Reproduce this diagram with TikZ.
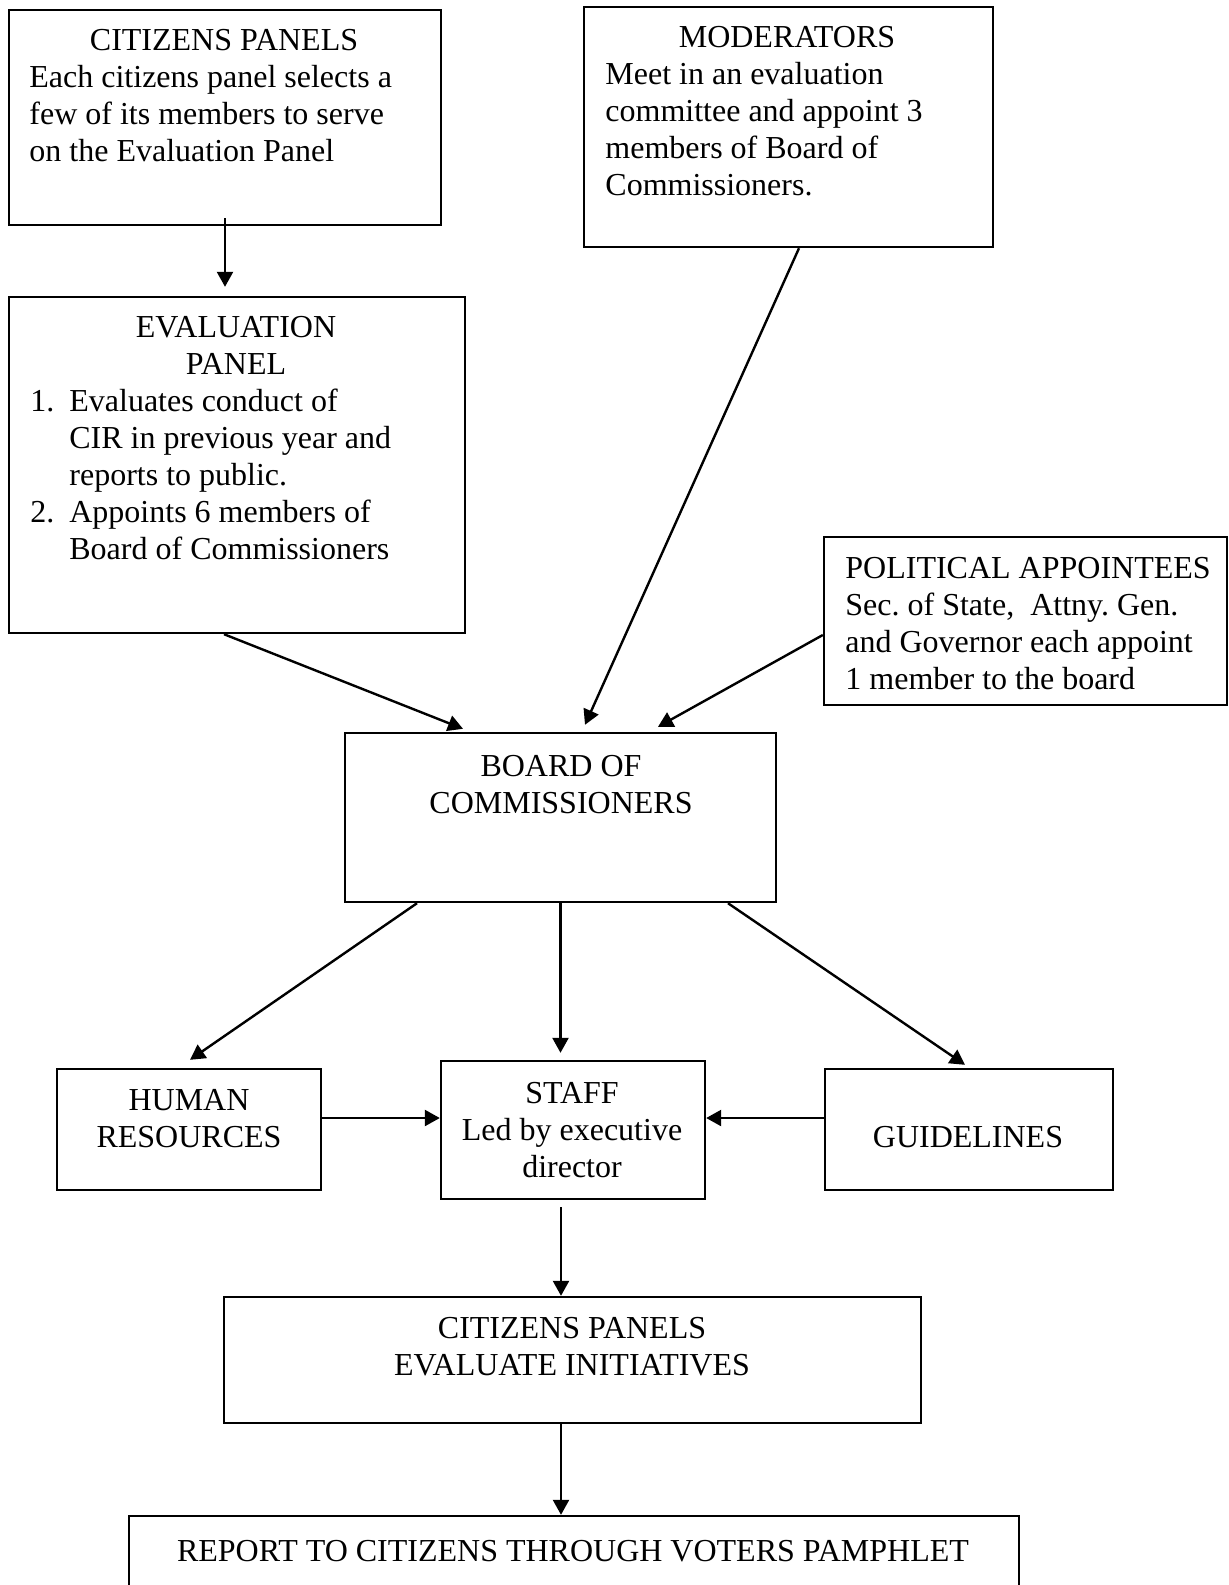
\documentclass[tikz,border=0pt]{standalone}
\usepackage{fontspec}
\setmainfont{Liberation Serif}
\usetikzlibrary{arrows.meta}
\frenchspacing
\begin{document}
\begin{tikzpicture}[x=0.5pt,y=-0.5pt,
  box/.style={draw, line width=1.2pt, rectangle, inner sep=0pt},
  lbl/.style={inner sep=0pt, font=\fontsize{16}{18.5}\selectfont},
  arr/.style={line width=1.2pt, -{Triangle[length=7.5pt,width=8pt]}}]
\useasboundingbox (0,0) rectangle (1228,1585);
\clip (0,0) rectangle (1228,1585);
% boxes
\node[box, minimum width=216pt, minimum height=107.5pt] (cp) at (225,117.5) {};
\node[box, minimum width=228pt, minimum height=168pt] (eval) at (237,465) {};
\node[box, minimum width=204.5pt, minimum height=120pt] (mod) at (788.5,127) {};
\node[box, minimum width=201.5pt, minimum height=84pt] (pol) at (1025.5,621) {};
\node[box, minimum width=215.5pt, minimum height=84.5pt] (board) at (560.5,817.5) {};
\node[box, minimum width=132pt, minimum height=60.5pt] (hr) at (189,1129.5) {};
\node[box, minimum width=132pt, minimum height=69pt] (staff) at (573,1130) {};
\node[box, minimum width=144pt, minimum height=60.5pt] (guide) at (969,1129.5) {};
\node[box, minimum width=348.5pt, minimum height=63pt] (cpe) at (572.5,1360) {};
\node[box, minimum width=445pt, minimum height=60pt] (report) at (574,1576) {};
% texts
\node[lbl, anchor=base] (cpT) at (224,50) {CITIZENS PANELS};
\node[lbl, anchor=base west] (cpB) at (29,87) {\begin{tabular}[t]{@{}l@{}}Each citizens panel selects a\\ few of its members to serve\\ on the Evaluation Panel\end{tabular}};
\node[lbl, anchor=base] (evT) at (236,337) {\begin{tabular}[t]{@{}c@{}}EVALUATION\\ PANEL\end{tabular}};
\node[lbl, anchor=base west] (evB) at (30,411) {\begin{tabular}[t]{@{}l@{}l@{}}\makebox[19.5pt][l]{1.} & Evaluates conduct of\\ & CIR in previous year and\\ & reports to public.\\ \makebox[19.5pt][l]{2.} & Appoints 6 members of\\ & Board of Commissioners\end{tabular}};
\node[lbl, anchor=base] (modT) at (787,47) {MODERATORS};
\node[lbl, anchor=base west] (modB) at (605,84) {\begin{tabular}[t]{@{}l@{}}Meet in an evaluation\\ committee and appoint 3\\ members of Board of\\ Commissioners.\end{tabular}};
\node[lbl, anchor=base west] (polT) at (845,578) {\begin{tabular}[t]{@{}l@{}}POLITICAL APPOINTEES\\ Sec. of State,\ \ Attny. Gen.\\ and Governor each appoint\\ 1 member to the board\end{tabular}};
\node[lbl, anchor=base] (boardT) at (561,776) {\begin{tabular}[t]{@{}c@{}}BOARD OF\\ COMMISSIONERS\end{tabular}};
\node[lbl, anchor=base] (hrT) at (189,1110) {\begin{tabular}[t]{@{}c@{}}HUMAN\\ RESOURCES\end{tabular}};
\node[lbl, anchor=base] (staffT) at (572,1103) {\begin{tabular}[t]{@{}c@{}}STAFF\\ Led by executive\\ director\end{tabular}};
\node[lbl, anchor=base] (guideT) at (968,1147) {GUIDELINES};
\node[lbl, anchor=base] (cpeT) at (572,1338) {\begin{tabular}[t]{@{}c@{}}CITIZENS PANELS\\ EVALUATE INITIATIVES\end{tabular}};
\node[lbl, anchor=base] (reportT) at (573,1561) {REPORT TO CITIZENS THROUGH VOTERS PAMPHLET};
% connectors
\draw[arr] ([yshift=4pt]cp.south) -- ([yshift=4.5pt]cp.south |- eval.north);
\draw[arr] ([xshift=-6.5pt]eval.south) -- ([xshift=-48.75pt,yshift=1.5pt]board.north);
\draw[arr] ([xshift=5.25pt]mod.south) -- ([xshift=12.25pt,yshift=3.5pt]board.north);
\draw[arr] ([yshift=-7pt]pol.west) -- ([xshift=48.75pt,yshift=2.5pt]board.north);
\draw[arr] ([xshift=-71.75pt]board.south) -- ([xshift=0.5pt,yshift=4pt]hr.north);
\draw[arr] (board.south) -- ([yshift=3.5pt]board.south |- staff.north);
\draw[arr] ([xshift=83.75pt]board.south) -- ([xshift=-2pt,yshift=1.5pt]guide.north);
\draw[arr] ([yshift=5.75pt]hr.east) -- ([yshift=5.75pt]hr.east -| staff.west);
\draw[arr] ([yshift=5.75pt]guide.west) -- ([yshift=5.75pt]guide.west -| staff.east);
\draw[arr] ([xshift=-6pt,yshift=-3.5pt]staff.south) -- ([xshift=-6pt]staff.south |- cpe.north);
\draw[arr] ([xshift=-5.75pt]cpe.south) -- ([xshift=-5.75pt]cpe.south |- report.north);
\end{tikzpicture}
\end{document}
